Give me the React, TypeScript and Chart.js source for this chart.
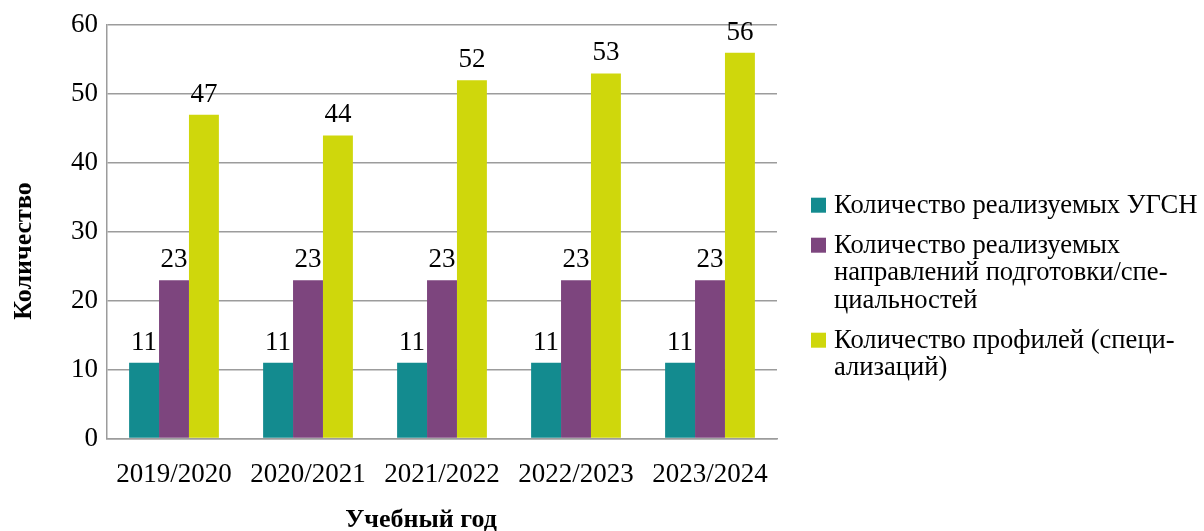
import React, { useEffect, useRef } from 'react';
import { Chart, registerables } from 'chart.js';

Chart.register(...registerables);

const categories = ['2019/2020', '2020/2021', '2021/2022', '2022/2023', '2023/2024'];
const ugsnValues = [11, 11, 11, 11, 11];
const directionValues = [23, 23, 23, 23, 23];
const profileValues = [47, 44, 52, 53, 56];
const seriesLabels = [
  'Количество реализуемых УГСН',
  'Количество реализуемых направлений подготовки/специальностей',
  'Количество профилей (специализаций)',
];
const legendLines = [
  ['Количество реализуемых УГСН'],
  ['Количество реализуемых', 'направлений подготовки/спе-', 'циальностей'],
  ['Количество профилей (специ-', 'ализаций)'],
];
const seriesColors = ['#138B8F', '#7D457E', '#CFD70C'];
const yTitle = 'Количество';
const xTitle = 'Учебный год';

const FONT = '"Liberation Serif", "Times New Roman", serif';

const valueLabelsPlugin = {
  id: 'valueLabels',
  afterDatasetsDraw(chart: any) {
    const ctx = chart.ctx;
    ctx.save();
    ctx.font = `27px ${FONT}`;
    ctx.fillStyle = '#000';
    ctx.textAlign = 'center';
    ctx.textBaseline = 'alphabetic';
    chart.data.datasets.forEach((ds: any, i: number) => {
      const meta = chart.getDatasetMeta(i);
      meta.data.forEach((el: any, j: number) => {
        ctx.fillText(String(ds.data[j]), el.x, el.y - 13);
      });
    });
    ctx.restore();
  },
};

const titlesAndLegendPlugin = {
  id: 'titlesAndLegend',
  afterDraw(chart: any) {
    const ctx = chart.ctx;
    ctx.save();
    ctx.fillStyle = '#000';
    ctx.font = `bold 26px ${FONT}`;
    ctx.textAlign = 'center';
    ctx.textBaseline = 'middle';
    ctx.save();
    ctx.translate(24, 251);
    ctx.rotate(-Math.PI / 2);
    ctx.fillText(yTitle, 0, 0);
    ctx.restore();
    ctx.textBaseline = 'alphabetic';
    ctx.fillText(xTitle, 421, 527);

    const boxX = chart.chartArea.right + 34;
    const textX = boxX + 23;
    const lineH = 27.5;
    const itemGap = 40;
    let y = 212.7;
    ctx.font = `26.6px ${FONT}`;
    ctx.textAlign = 'left';
    legendLines.forEach((lines, i) => {
      const ds = chart.data.datasets[i];
      ctx.fillStyle = ds.backgroundColor;
      ctx.fillRect(boxX, y - 15, 15, 15);
      ctx.fillStyle = '#000';
      lines.forEach((ln, k) => {
        ctx.fillText(ln, textX, y + k * lineH);
      });
      y += (lines.length - 1) * lineH + itemGap;
    });
    ctx.restore();
  },
};

export default function App() {
  const ref = useRef<HTMLCanvasElement | null>(null);
  useEffect(() => {
    if (!ref.current) return;
    const gridColor = '#9c9c9c';
    const chart = new Chart(ref.current, {
      type: 'bar',
      data: {
        labels: categories,
        datasets: [
          { label: seriesLabels[0], data: ugsnValues, backgroundColor: seriesColors[0] },
          { label: seriesLabels[1], data: directionValues, backgroundColor: seriesColors[1] },
          { label: seriesLabels[2], data: profileValues, backgroundColor: seriesColors[2] },
        ],
      },
      options: {
        animation: false,
        responsive: true,
        maintainAspectRatio: false,
        layout: { padding: { left: 62, right: 427, top: 10, bottom: 20 } },
        datasets: {
          bar: { categoryPercentage: 0.67, barPercentage: 1.0 },
        },
        plugins: {
          legend: { display: false },
          tooltip: { enabled: false },
          title: { display: false },
        },
        scales: {
          x: {
            grid: { display: false, drawTicks: false },
            border: { display: true, color: gridColor, width: 1.5 },
            ticks: {
              color: '#000',
              font: { family: FONT, size: 27 },
              padding: 20,
              maxRotation: 0,
            },
          },
          y: {
            min: 0,
            max: 60,
            grid: { color: gridColor, lineWidth: 1.5, drawTicks: false },
            border: { display: true, color: gridColor, width: 1.5 },
            ticks: {
              stepSize: 10,
              color: '#000',
              font: { family: FONT, size: 27 },
              padding: 9,
            },
          },
        },
      },
      plugins: [valueLabelsPlugin, titlesAndLegendPlugin],
    });
    return () => chart.destroy();
  }, []);
  return (
    <div style={{ position: 'fixed', left: 0, top: 0, width: 1204, height: 531, background: '#fff' }}>
      <canvas ref={ref} />
    </div>
  );
}
